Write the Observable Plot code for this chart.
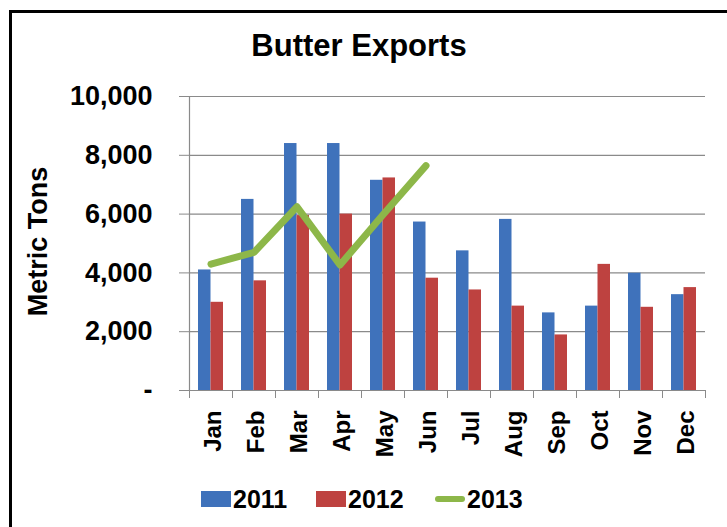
<!DOCTYPE html>
<html>
<head>
<meta charset="utf-8">
<script src="https://cdn.jsdelivr.net/npm/d3@7"></script>
<script src="https://cdn.jsdelivr.net/npm/@observablehq/plot@0.6"></script>
<style>
  html, body { margin: 0; padding: 0; background: #fff; overflow: hidden; }
  #wrap { position: relative; width: 727px; height: 527px; overflow: hidden; font-family: "Liberation Sans", Arial, sans-serif; }
  #frame { position: absolute; left: 9px; top: 10px; width: 800px; height: 600px; border-left: 3px solid #000; border-top: 3px solid #000; }
  #title { position: absolute; left: 0; top: 30px; width: 718px; text-align: center; font-size: 31px; line-height: 31px; font-weight: bold; color: #000; }
  #chart { position: absolute; left: 0; top: 0; }
  .leg { position: absolute; top: 487px; height: 24px; display: flex; align-items: center; font-size: 25px; line-height: 24px; font-weight: bold; color: #000; }
  .sw { width: 30px; height: 16px; margin-right: 2px; }
  .ln { width: 30px; height: 6px; border-radius: 3px; margin-right: 2px; }
</style>
</head>
<body>
<div id="wrap">
  <div id="frame"></div>
  <div id="chart"></div>
  <div id="title"></div>
  <div id="legend"></div>
</div>
<script>
const title = "Butter Exports";
const yLabel = "Metric Tons";
const months = ["Jan","Feb","Mar","Apr","May","Jun","Jul","Aug","Sep","Oct","Nov","Dec"];
const series = ["2011", "2012", "2013"];
const v2011 = [4100, 6500, 8400, 8400, 7150, 5730, 4750, 5820, 2640, 2870, 3990, 3260];
const v2012 = [3000, 3730, 5950, 6000, 7230, 3820, 3420, 2870, 1890, 4290, 2830, 3500];
const v2013 = [4300, 4700, 6250, 4270, 5980, 7650];
const yTicks = [0, 2000, 4000, 6000, 8000, 10000];

const colors = {"2011": "#3f72bb", "2012": "#be4240", "2013": "#8db749"};

const barData = months.map((m, i) => ({month: m, y2011: v2011[i], y2012: v2012[i]}));
const lineData = v2013.map((v, i) => ({month: months[i], value: v}));

const W = 727, H = 527;
const mL = 189, mR = 22, mT = 96, mB = 137;
const bw = (W - mL - mR) / months.length;
const grid = "#8a8a8a";
const fontFamily = '"Liberation Sans", Arial, sans-serif';

const chart = Plot.plot({
  width: W,
  height: H,
  marginLeft: mL,
  marginRight: mR,
  marginTop: mT,
  marginBottom: mB,
  style: {fontFamily, background: "transparent", overflow: "visible", color: "#000"},
  x: {type: "band", domain: months, padding: 0, label: null},
  y: {domain: [0, 10000], label: null},
  marks: [
    Plot.ruleY(yTicks, {stroke: grid, strokeWidth: 1.2}),
    Plot.frame({anchor: "left", stroke: grid, strokeWidth: 1.2}),
    Plot.axisY(yTicks, {
      tickSize: 10, tickPadding: 27, stroke: grid, fill: "#000",
      tickFormat: d => d === 0 ? "-" : d3.format(",")(d),
      fontSize: 27, fontWeight: "bold", label: null
    }),
    Plot.axisX({tickSize: 8, tickFormat: () => "", dx: -bw / 2, stroke: grid, label: null}),
    Plot.axisX([months[months.length - 1]], {tickSize: 8, tickFormat: () => "", dx: bw / 2, stroke: grid, label: null}),
    Plot.axisX({
      tickSize: 0, tickPadding: 20, tickRotate: -90, fill: "#000", dx: 2,
      fontSize: 24, fontWeight: "bold", label: null
    }),
    Plot.barY(barData, {x: "month", y: "y2011", fill: colors["2011"], insetLeft: 9, insetRight: 21.5}),
    Plot.barY(barData, {x: "month", y: "y2012", fill: colors["2012"], insetLeft: 21.5, insetRight: 9}),
    Plot.line(lineData, {x: "month", y: "value", stroke: colors["2013"], strokeWidth: 7, strokeLinecap: "round", strokeLinejoin: "round"}),
    Plot.text([yLabel], {frameAnchor: "left", dx: -151, dy: -2, rotate: -90, fontSize: 27, fontWeight: "bold", fill: "#000", textAnchor: "middle"})
  ]
});
document.getElementById("chart").appendChild(chart);
document.getElementById("title").textContent = title;

const legend = document.getElementById("legend");
const legPos = {"2011": 201, "2012": 316, "2013": 435};
series.forEach(s => {
  const item = document.createElement("div");
  item.className = "leg";
  item.style.left = legPos[s] + "px";
  const mark = document.createElement("div");
  mark.className = s === "2013" ? "ln" : "sw";
  mark.style.background = colors[s];
  const t = document.createElement("span");
  t.textContent = s;
  item.appendChild(mark);
  item.appendChild(t);
  legend.appendChild(item);
});
</script>
</body>
</html>
